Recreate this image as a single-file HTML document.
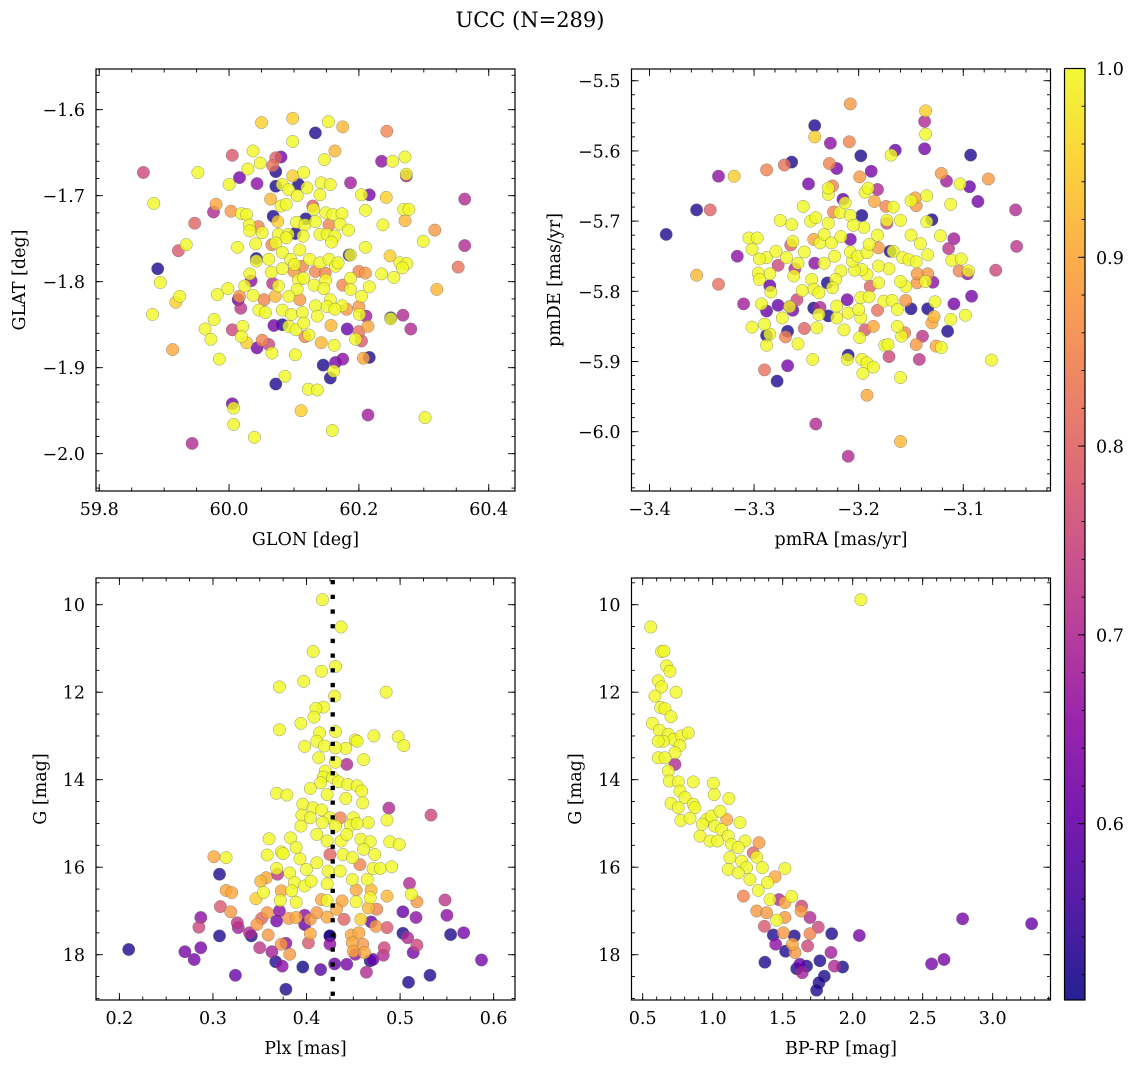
<!DOCTYPE html>
<html><head><meta charset="utf-8"><title>UCC (N=289)</title>
<style>
html,body{margin:0;padding:0;background:#fff;}
svg{display:block;font-family:"DejaVu Serif","Liberation Serif",serif;}
</style></head>
<body>
<svg id="fig" width="1136" height="1068" viewBox="0 0 1136 1068" xmlns="http://www.w3.org/2000/svg">
<defs>
<linearGradient id="plasmaGrad" x1="0" y1="1" x2="0" y2="0">
<stop offset="0" stop-color="#0d0887"/><stop offset="0.1" stop-color="#41049d"/><stop offset="0.2" stop-color="#6a00a8"/><stop offset="0.3" stop-color="#8f0da4"/><stop offset="0.4" stop-color="#b12a90"/><stop offset="0.5" stop-color="#cc4778"/><stop offset="0.6" stop-color="#e16462"/><stop offset="0.7" stop-color="#f2844b"/><stop offset="0.8" stop-color="#fca636"/><stop offset="0.9" stop-color="#fcce25"/><stop offset="1" stop-color="#f0f921"/>
</linearGradient>
</defs>
<text x="530" y="27" text-anchor="middle" font-size="21">UCC (N=289)</text>
</svg>
<script>
// ---------- data ----------
const skyPoints = [
[59.868,-1.673,0.75],[59.884,-1.709,1],[59.952,-1.673,1],[60.005,-1.653,0.78],[60.050,-1.615,0.95],[60.098,-1.610,0.95],[60.153,-1.614,1],[60.175,-1.620,0.92],[60.133,-1.627,0.52],[60.243,-1.625,0.85],
[60.098,-1.637,1],[60.163,-1.648,0.92],[60.147,-1.658,1],[60.235,-1.660,0.65],[60.252,-1.660,1],[60.271,-1.655,1],[60.273,-1.677,0.68],[60.273,-1.675,1],[60.037,-1.648,1],[60.048,-1.662,1],
[60.029,-1.669,1],[60.016,-1.679,0.62],[60.043,-1.686,0.65],[60.000,-1.687,1],[60.072,-1.656,0.8],[60.080,-1.655,0.62],[60.067,-1.665,0.82],[60.072,-1.672,0.52],[60.072,-1.689,0.52],[60.098,-1.677,0.95],
[60.115,-1.673,1],[60.082,-1.687,1],[60.092,-1.693,1],[60.105,-1.700,1],[60.107,-1.687,0.52],[60.120,-1.691,1],[60.142,-1.685,1],[60.156,-1.687,1],[60.140,-1.699,1],[60.187,-1.685,0.68],
[60.204,-1.699,1],[60.216,-1.699,0.62],[60.242,-1.702,0.95],[60.363,-1.704,0.7],[60.064,-1.704,0.92],[59.980,-1.710,0.9],[59.976,-1.719,0.7],[60.003,-1.718,0.88],[60.019,-1.721,1],[60.027,-1.722,1],
[60.080,-1.712,1],[60.088,-1.710,1],[60.129,-1.712,0.8],[60.130,-1.716,1],[60.210,-1.717,1],[60.269,-1.716,1],[60.277,-1.716,1],[60.271,-1.729,0.92],[60.317,-1.740,0.88],[59.947,-1.732,0.8],
[60.068,-1.724,0.52],[60.075,-1.730,0.95],[60.118,-1.727,0.52],[60.104,-1.731,1],[60.117,-1.734,1],[60.133,-1.730,1],[60.149,-1.720,1],[60.160,-1.722,1],[60.174,-1.721,1],[60.154,-1.734,0.85],
[60.171,-1.733,1],[60.184,-1.740,1],[60.237,-1.734,1],[60.031,-1.734,1],[60.045,-1.736,0.85],[60.032,-1.741,1],[60.051,-1.743,1],[60.076,-1.745,1],[60.091,-1.745,1],[60.088,-1.749,1],
[60.114,-1.747,1],[60.140,-1.745,1],[60.151,-1.745,1],[60.163,-1.747,1],[60.158,-1.754,1],[60.102,-1.744,0.52],[59.934,-1.757,1],[59.922,-1.764,0.78],[60.013,-1.760,1],[60.041,-1.756,1],
[60.066,-1.757,0.85],[60.072,-1.755,1],[60.109,-1.763,1],[60.082,-1.766,1],[60.042,-1.773,0.52],[60.042,-1.776,1],[60.061,-1.774,1],[60.095,-1.774,1],[60.101,-1.780,1],[60.113,-1.782,0.85],
[60.124,-1.774,1],[60.140,-1.778,1],[60.154,-1.774,1],[60.164,-1.782,1],[60.168,-1.778,1],[60.185,-1.769,0.52],[60.187,-1.769,1],[60.210,-1.760,1],[60.248,-1.770,0.95],[60.263,-1.778,1],
[60.274,-1.779,1],[60.267,-1.784,1],[60.299,-1.753,1],[60.363,-1.758,0.7],[59.890,-1.785,0.52],[59.894,-1.801,1],[60.032,-1.791,1],[60.065,-1.789,1],[60.082,-1.785,1],[60.100,-1.788,0.88],
[60.133,-1.788,0.85],[60.148,-1.790,0.85],[60.107,-1.798,1],[60.115,-1.796,1],[60.131,-1.804,1],[60.149,-1.798,1],[60.200,-1.788,0.85],[60.210,-1.790,0.88],[60.187,-1.796,1],[60.235,-1.791,1],
[60.254,-1.795,1],[60.353,-1.783,0.82],[60.320,-1.809,0.92],[60.034,-1.799,0.65],[60.067,-1.802,0.72],[60.076,-1.805,1],[60.105,-1.809,1],[60.146,-1.808,1],[60.175,-1.804,0.85],[60.187,-1.809,1],
[60.216,-1.806,1],[59.924,-1.817,1],[59.918,-1.824,0.95],[59.982,-1.815,1],[59.998,-1.808,1],[60.024,-1.805,1],[60.037,-1.816,1],[60.014,-1.821,0.6],[60.016,-1.817,0.88],[60.018,-1.831,0.72],
[60.054,-1.821,0.85],[60.071,-1.817,0.92],[60.092,-1.817,1],[60.109,-1.821,0.88],[60.133,-1.828,1],[60.156,-1.821,1],[60.151,-1.829,1],[60.174,-1.828,1],[60.181,-1.832,0.88],[60.200,-1.829,0.88],
[60.204,-1.817,1],[60.046,-1.833,1],[60.056,-1.836,1],[60.082,-1.833,1],[60.096,-1.838,1],[60.113,-1.836,1],[60.136,-1.840,1],[60.163,-1.832,1],[60.201,-1.838,1],[60.211,-1.840,0.68],
[59.882,-1.838,1],[59.977,-1.844,1],[59.963,-1.855,1],[59.972,-1.867,1],[60.005,-1.856,0.75],[60.021,-1.852,1],[60.019,-1.864,1],[60.027,-1.871,0.95],[60.043,-1.877,0.62],[60.051,-1.868,0.85],
[60.061,-1.873,0.75],[60.066,-1.883,1],[60.069,-1.851,0.62],[60.082,-1.850,0.52],[60.092,-1.852,1],[60.103,-1.856,1],[60.115,-1.848,1],[60.117,-1.864,0.85],[60.123,-1.862,1],[60.142,-1.871,0.92],
[60.157,-1.851,0.92],[60.162,-1.874,1],[60.182,-1.855,0.6],[60.200,-1.858,0.82],[60.195,-1.867,1],[60.204,-1.869,0.78],[60.214,-1.852,0.9],[60.249,-1.842,0.52],[60.249,-1.843,1],[60.268,-1.839,0.7],
[60.280,-1.855,0.7],[59.913,-1.879,0.9],[59.985,-1.890,1],[60.102,-1.885,1],[60.145,-1.897,0.52],[60.164,-1.894,0.62],[60.175,-1.890,0.65],[60.156,-1.912,0.52],[60.161,-1.904,1],[60.207,-1.889,0.9],
[60.216,-1.888,0.52],[60.086,-1.910,1],[60.072,-1.919,0.52],[60.122,-1.925,1],[60.136,-1.926,1],[60.005,-1.942,0.62],[60.007,-1.947,1],[60.111,-1.950,0.95],[60.214,-1.955,0.68],[60.302,-1.958,1],
[60.007,-1.966,1],[60.159,-1.973,1],[60.039,-1.981,1],[59.943,-1.988,0.7]
];
const pmPoints = [
[-3.384,-5.719,0.52],[-3.355,-5.684,0.52],[-3.342,-5.684,0.8],[-3.334,-5.636,0.65],[-3.319,-5.636,0.95],[-3.355,-5.777,0.92],[-3.334,-5.790,0.82],[-3.316,-5.750,0.65],[-3.310,-5.818,0.68],[-3.288,-5.627,0.85],
[-3.271,-5.620,0.82],[-3.264,-5.616,0.52],[-3.248,-5.647,0.62],[-3.242,-5.564,0.52],[-3.242,-5.580,0.95],[-3.227,-5.589,0.65],[-3.208,-5.533,0.88],[-3.209,-5.587,0.85],[-3.228,-5.618,0.85],[-3.221,-5.625,0.62],
[-3.198,-5.607,0.52],[-3.199,-5.637,0.88],[-3.188,-5.629,0.62],[-3.165,-5.599,0.6],[-3.169,-5.606,1],[-3.136,-5.543,0.95],[-3.137,-5.558,0.7],[-3.136,-5.576,1],[-3.137,-5.597,0.62],[-3.093,-5.606,0.52],
[-3.121,-5.632,0.88],[-3.116,-5.643,0.68],[-3.103,-5.647,1],[-3.094,-5.651,0.6],[-3.076,-5.640,0.88],[-3.086,-5.672,0.62],[-3.050,-5.684,0.7],[-3.049,-5.736,0.72],[-3.069,-5.770,0.75],[-3.092,-5.807,0.62],
[-3.109,-5.818,0.62],[-3.115,-5.857,0.52],[-3.073,-5.898,1],[-3.098,-5.834,1],[-3.112,-5.840,1],[-3.127,-5.815,1],[-3.134,-5.825,0.52],[-3.128,-5.836,0.92],[-3.130,-5.845,0.9],[-3.139,-5.864,0.72],
[-3.142,-5.897,0.72],[-3.145,-5.876,0.88],[-3.126,-5.878,0.9],[-3.121,-5.880,1],[-3.150,-5.825,0.52],[-3.155,-5.813,0.88],[-3.156,-5.859,0.85],[-3.159,-5.864,1],[-3.163,-5.850,1],[-3.171,-5.893,0.75],
[-3.175,-5.877,1],[-3.172,-5.876,1],[-3.160,-5.923,1],[-3.192,-5.948,0.9],[-3.160,-6.014,0.92],[-3.241,-5.989,0.7],[-3.210,-6.035,0.7],[-3.278,-5.928,0.52],[-3.290,-5.912,0.82],[-3.268,-5.906,0.62],
[-3.244,-5.897,1],[-3.210,-5.891,0.52],[-3.211,-5.897,1],[-3.197,-5.897,1],[-3.192,-5.902,1],[-3.186,-5.908,1],[-3.196,-5.917,1],[-3.199,-5.866,1],[-3.214,-5.855,1],[-3.194,-5.855,0.78],
[-3.186,-5.850,0.9],[-3.240,-5.852,1],[-3.252,-5.853,0.8],[-3.270,-5.865,0.85],[-3.268,-5.857,0.52],[-3.288,-5.863,0.52],[-3.285,-5.861,1],[-3.288,-5.877,1],[-3.302,-5.851,1],[-3.290,-5.847,1],
[-3.258,-5.875,1],[-3.273,-5.838,1],[-3.277,-5.820,0.6],[-3.266,-5.822,0.62],[-3.263,-5.827,0.62],[-3.266,-5.822,1],[-3.259,-5.812,0.75],[-3.288,-5.828,0.6],[-3.293,-5.818,1],[-3.243,-5.824,0.52],
[-3.237,-5.823,0.7],[-3.238,-5.833,1],[-3.229,-5.835,0.52],[-3.221,-5.838,1],[-3.221,-5.821,1],[-3.211,-5.812,0.62],[-3.210,-5.831,1],[-3.198,-5.838,1],[-3.198,-5.809,1],[-3.200,-5.826,1],
[-3.190,-5.808,1],[-3.182,-5.827,0.82],[-3.176,-5.814,1],[-3.168,-5.813,1],[-3.163,-5.826,1],[-3.155,-5.793,1],[-3.160,-5.786,1],[-3.144,-5.788,0.88],[-3.136,-5.786,1],[-3.129,-5.787,0.65],
[-3.134,-5.775,0.88],[-3.144,-5.775,0.88],[-3.181,-5.788,1],[-3.189,-5.793,0.8],[-3.171,-5.768,1],[-3.181,-5.764,1],[-3.192,-5.776,1],[-3.197,-5.769,1],[-3.204,-5.770,1],[-3.206,-5.757,1],
[-3.217,-5.771,1],[-3.222,-5.783,1],[-3.225,-5.795,1],[-3.230,-5.788,0.52],[-3.245,-5.783,1],[-3.243,-5.797,1],[-3.238,-5.802,1],[-3.254,-5.799,1],[-3.262,-5.778,1],[-3.261,-5.768,0.7],
[-3.258,-5.760,1],[-3.277,-5.763,0.75],[-3.269,-5.752,1],[-3.285,-5.775,1],[-3.296,-5.774,1],[-3.295,-5.783,1],[-3.285,-5.792,0.6],[-3.284,-5.801,1],[-3.288,-5.752,1],[-3.295,-5.754,1],
[-3.302,-5.740,1],[-3.305,-5.724,1],[-3.297,-5.724,1],[-3.279,-5.743,1],[-3.265,-5.734,0.8],[-3.263,-5.729,1],[-3.252,-5.744,1],[-3.242,-5.760,0.65],[-3.243,-5.726,0.9],[-3.237,-5.731,1],
[-3.233,-5.719,1],[-3.226,-5.731,1],[-3.217,-5.722,1],[-3.223,-5.750,1],[-3.233,-5.760,1],[-3.208,-5.744,1],[-3.208,-5.726,0.62],[-3.201,-5.750,1],[-3.192,-5.745,1],[-3.190,-5.733,1],
[-3.182,-5.720,1],[-3.181,-5.738,0.88],[-3.170,-5.743,0.52],[-3.167,-5.743,1],[-3.158,-5.752,1],[-3.152,-5.755,1],[-3.145,-5.758,1],[-3.134,-5.748,1],[-3.141,-5.732,1],[-3.150,-5.720,1],
[-3.122,-5.721,1],[-3.114,-5.739,0.72],[-3.109,-5.725,0.68],[-3.111,-5.756,1],[-3.102,-5.754,1],[-3.104,-5.771,0.85],[-3.096,-5.775,0.65],[-3.095,-5.771,1],[-3.275,-5.699,1],[-3.264,-5.705,1],
[-3.253,-5.679,1],[-3.246,-5.700,1],[-3.241,-5.695,1],[-3.229,-5.703,1],[-3.224,-5.687,0.85],[-3.218,-5.688,1],[-3.213,-5.674,1],[-3.208,-5.692,1],[-3.197,-5.692,0.52],[-3.195,-5.709,1],
[-3.205,-5.706,1],[-3.229,-5.662,1],[-3.229,-5.653,1],[-3.225,-5.650,0.85],[-3.215,-5.669,0.6],[-3.194,-5.659,1],[-3.191,-5.653,1],[-3.182,-5.655,0.7],[-3.185,-5.672,0.9],[-3.174,-5.679,0.85],
[-3.167,-5.680,1],[-3.173,-5.699,1],[-3.173,-5.703,0.75],[-3.160,-5.699,1],[-3.150,-5.671,1],[-3.146,-5.667,0.9],[-3.145,-5.678,0.88],[-3.135,-5.664,1],[-3.130,-5.698,0.52],[-3.135,-5.701,1],
[-3.112,-5.676,1]
];
const plxPoints = [
[0.417,9.886,1],[0.437,10.51,1],[0.407,11.07,1],[0.431,11.41,1],[0.416,11.52,1],[0.397,11.75,1],[0.371,11.88,1],[0.485,12.00,1],[0.430,12.09,1],[0.418,12.34,1],
[0.410,12.37,1],[0.408,12.57,1],[0.394,12.71,1],[0.371,12.86,1],[0.414,12.93,1],[0.431,12.90,1],[0.452,13.09,1],[0.454,13.12,1],[0.472,13.00,1],[0.498,13.02,1],
[0.504,13.22,1],[0.398,13.24,1],[0.411,13.12,1],[0.419,13.23,1],[0.442,13.28,1],[0.431,13.27,1],[0.413,13.50,1],[0.431,13.60,1],[0.461,13.54,1],[0.443,13.65,0.7],
[0.420,13.80,1],[0.418,13.94,1],[0.428,13.95,1],[0.434,14.05,1],[0.415,14.07,1],[0.404,14.20,1],[0.444,14.11,1],[0.454,14.14,1],[0.459,14.26,1],[0.368,14.31,1],
[0.379,14.35,1],[0.422,14.34,1],[0.442,14.43,1],[0.396,14.56,1],[0.407,14.64,1],[0.416,14.69,1],[0.460,14.53,1],[0.488,14.65,0.7],[0.533,14.81,0.75],[0.395,14.81,1],
[0.404,14.87,1],[0.425,14.87,1],[0.436,14.87,0.85],[0.450,14.87,1],[0.466,14.98,1],[0.486,14.92,1],[0.394,15.06,1],[0.417,14.98,1],[0.431,15.06,1],[0.447,15.04,1],
[0.454,15.00,1],[0.411,15.25,1],[0.422,15.40,1],[0.437,15.40,1],[0.443,15.25,1],[0.458,15.36,1],[0.468,15.42,1],[0.489,15.42,1],[0.499,15.48,1],[0.360,15.35,1],
[0.383,15.33,1],[0.389,15.55,1],[0.373,15.65,1],[0.375,15.69,1],[0.358,15.72,1],[0.314,15.78,1],[0.301,15.76,0.9],[0.393,15.81,1],[0.411,15.90,1],[0.425,15.71,0.8],
[0.439,15.71,1],[0.449,15.78,1],[0.461,15.59,1],[0.473,15.71,1],[0.457,15.94,0.85],[0.471,16.03,1],[0.479,16.03,1],[0.491,15.99,1],[0.368,16.03,1],[0.400,16.05,1],
[0.423,16.09,1],[0.436,16.09,1],[0.307,16.16,0.52],[0.351,16.32,0.92],[0.357,16.24,0.9],[0.369,16.16,0.72],[0.382,16.13,1],[0.387,16.35,1],[0.398,16.43,1],[0.405,16.32,1],
[0.422,16.38,1],[0.449,16.28,1],[0.465,16.28,1],[0.510,16.37,0.7],[0.314,16.53,0.9],[0.320,16.58,0.9],[0.354,16.58,1],[0.373,16.54,0.9],[0.384,16.54,1],[0.346,16.72,0.95],
[0.372,16.76,1],[0.389,16.80,1],[0.416,16.74,0.9],[0.422,16.76,1],[0.438,16.77,0.9],[0.453,16.52,0.9],[0.453,16.79,1],[0.469,16.52,0.92],[0.468,16.70,1],[0.486,16.66,0.92],
[0.512,16.62,1],[0.518,16.79,0.88],[0.548,16.75,0.72],[0.308,16.90,0.78],[0.319,17.02,0.88],[0.358,17.04,0.88],[0.371,17.00,0.65],[0.381,17.17,0.88],[0.389,17.15,0.9],[0.398,17.10,0.65],
[0.404,17.19,0.88],[0.411,17.04,0.88],[0.422,17.14,0.9],[0.432,16.96,0.9],[0.440,17.19,0.8],[0.458,17.19,0.95],[0.466,16.93,0.92],[0.475,16.96,0.85],[0.503,17.02,0.6],[0.517,17.15,0.65],
[0.550,17.10,0.65],[0.287,17.15,0.65],[0.285,17.37,0.75],[0.326,17.27,0.72],[0.327,17.38,0.68],[0.341,17.57,0.52],[0.339,17.50,0.7],[0.347,17.31,0.88],[0.352,17.17,0.8],[0.368,17.23,0.62],
[0.398,17.31,0.6],[0.404,17.52,0.9],[0.425,17.57,0.52],[0.448,17.55,0.9],[0.456,17.50,0.9],[0.469,17.25,0.6],[0.474,17.35,0.88],[0.486,17.38,0.78],[0.503,17.51,0.52],[0.508,17.61,0.7],
[0.554,17.54,0.52],[0.568,17.50,0.62],[0.307,17.57,0.52],[0.210,17.88,0.52],[0.270,17.93,0.62],[0.280,18.11,0.62],[0.287,17.84,0.62],[0.324,18.47,0.6],[0.350,17.84,0.72],[0.359,17.55,0.88],
[0.363,17.93,0.68],[0.367,18.16,0.52],[0.373,17.76,0.88],[0.374,18.26,0.65],[0.378,17.74,0.65],[0.382,17.99,0.88],[0.378,18.79,0.52],[0.396,18.28,0.5],[0.402,17.73,0.78],[0.415,18.34,0.58],
[0.425,17.57,0.52],[0.425,17.76,0.65],[0.430,18.21,0.6],[0.443,18.22,0.62],[0.449,17.73,0.9],[0.450,17.92,0.9],[0.452,17.99,0.65],[0.460,17.76,0.88],[0.462,17.95,0.9],[0.464,18.40,0.7],
[0.468,18.14,0.52],[0.471,18.11,0.6],[0.482,18.01,0.7],[0.483,17.84,0.75],[0.514,17.95,0.62],[0.509,18.63,0.52],[0.518,17.78,0.75],[0.532,18.47,0.52],[0.587,18.12,0.62]
];
const cmdPoints = [
[2.059,9.886,1],[0.557,10.51,1],[0.635,11.07,1],[0.652,11.06,1],[0.671,11.40,1],[0.695,11.52,1],[0.611,11.74,1],[0.635,11.88,1],[0.738,12.00,1],[0.588,12.09,1],
[0.628,12.35,1],[0.659,12.38,1],[0.702,12.56,1],[0.569,12.71,1],[0.619,12.87,1],[0.683,12.96,1],[0.719,13.08,1],[0.778,13.00,1],[0.826,12.93,1],[0.647,13.12,1],
[0.611,13.12,1],[0.766,13.22,1],[0.731,13.38,1],[0.611,13.50,1],[0.659,13.50,1],[0.731,13.65,0.7],[0.683,13.80,1],[0.690,14.03,1],[0.754,14.05,1],[0.766,14.26,1],
[0.861,14.05,1],[1.004,14.08,1],[1.011,14.34,1],[1.116,14.43,1],[0.702,14.54,1],[0.802,14.41,1],[0.861,14.56,1],[0.754,14.64,1],[0.873,14.64,1],[0.773,14.93,1],
[0.838,14.88,1],[0.957,14.91,1],[0.992,14.83,1],[1.052,14.72,1],[1.100,14.91,0.9],[0.926,15.02,1],[1.016,15.06,1],[1.064,15.14,1],[1.195,14.98,1],[0.909,15.29,1],
[0.981,15.40,1],[1.035,15.40,1],[1.111,15.29,1],[1.135,15.48,1],[1.231,15.40,1],[1.183,15.55,1],[1.331,15.44,0.88],[1.290,15.67,0.8],[1.123,15.78,1],[1.207,15.86,1],
[1.314,15.77,1],[1.242,16.01,1],[1.111,16.05,1],[1.183,16.13,1],[1.354,16.01,1],[1.516,16.03,1],[1.445,16.22,0.9],[1.266,16.28,1],[1.392,16.35,1],[1.326,16.53,1],
[1.219,16.66,0.85],[1.409,16.74,1],[1.473,16.74,0.7],[1.564,16.67,1],[1.516,16.81,0.9],[1.314,17.00,0.88],[1.385,17.04,0.88],[1.457,17.21,1],[1.516,17.15,0.88],[1.631,17.00,0.88],
[1.635,16.89,0.75],[1.695,17.15,0.7],[1.369,17.35,0.78],[1.433,17.55,0.52],[1.504,17.50,0.88],[1.450,17.76,0.65],[1.521,17.92,0.52],[1.583,17.57,0.52],[1.569,17.76,0.9],[1.588,17.95,0.88],
[1.695,17.52,0.85],[1.678,17.80,0.75],[1.754,17.37,0.75],[1.850,17.52,0.52],[1.845,17.95,0.68],[1.766,18.14,0.52],[1.623,18.22,0.6],[1.600,18.32,0.52],[1.640,18.41,0.68],[1.671,18.26,0.52],
[1.869,18.26,0.7],[1.928,18.28,0.52],[1.797,18.49,0.52],[1.759,18.64,0.52],[1.742,18.81,0.52],[1.373,18.17,0.52],[2.047,17.56,0.62],[2.785,17.18,0.62],[3.278,17.29,0.6],[2.564,18.21,0.62],
[2.652,18.11,0.62]
];
const plxLine = 0.428;
const xTicks1 = [59.8, 60.0, 60.2, 60.4];
const yTicks1 = [-1.6, -1.7, -1.8, -1.9, -2.0];
const xTicks2 = [-3.4, -3.3, -3.2, -3.1];
const yTicks2 = [-5.5, -5.6, -5.7, -5.8, -5.9, -6.0];
const xTicks3 = [0.2, 0.3, 0.4, 0.5, 0.6];
const xTicks4 = [0.5, 1.0, 1.5, 2.0, 2.5, 3.0];
const gTicks = [10, 12, 14, 16, 18];
const cbarTicks = [0.6, 0.7, 0.8, 0.9, 1.0];

// ---------- helpers ----------
const NS = "http://www.w3.org/2000/svg";
const svg = document.getElementById("fig");
function mk(tag, attrs, parent) {
  const e = document.createElementNS(NS, tag);
  for (const k in attrs) e.setAttribute(k, attrs[k]);
  (parent || svg).appendChild(e);
  return e;
}
const VMIN = 0.5066, VMAX = 1.0;
const plasma = ["#0d0887","#41049d","#6a00a8","#8f0da4","#b12a90","#cc4778","#e16462","#f2844b","#fca636","#fcce25","#f0f921"];
function hex(c){return [parseInt(c.slice(1,3),16),parseInt(c.slice(3,5),16),parseInt(c.slice(5,7),16)];}
function cmap(v){
  let t = (v - VMIN) / (VMAX - VMIN); t = Math.max(0, Math.min(1, t));
  const f = t * 10, i = Math.min(9, Math.floor(f)), r = f - i;
  const a = hex(plasma[i]), b = hex(plasma[i+1]);
  return "rgb(" + a.map((x,k)=>Math.round(x+(b[k]-x)*r)).join(",") + ")";
}
function fmt(v, d){ const s = v.toFixed(d); return s.replace("-", "\u2212"); }
const FS = 17.5;

function makeAxis(cfg) {
  const g = mk("g", {});
  
  
  const sx = v => cfg.L + (v - cfg.x0) / (cfg.x1 - cfg.x0) * (cfg.R - cfg.L);
  const sy = v => cfg.B - (v - cfg.y0) / (cfg.y1 - cfg.y0) * (cfg.B - cfg.T);
  const clip = mk("clipPath", {id: cfg.name + "-clip"}, g);
  mk("rect", {x: cfg.L, y: cfg.T, width: cfg.R - cfg.L, height: cfg.B - cfg.T}, clip);
  const pts = mk("g", {"clip-path": "url(#" + cfg.name + "-clip)"}, g);
  
  
  const sorted = cfg.data.slice().sort((a, b) => a[2] - b[2]);
  for (const d of sorted) {
    const c = mk("circle", {cx: sx(d[0]).toFixed(1), cy: sy(d[1]).toFixed(1), r: 6.2, fill: cmap(d[2]), "fill-opacity": 0.8, stroke: "#6a6a6a", "stroke-opacity": 0.7, "stroke-width": 0.5}, pts);
    
    
  }
  if (cfg.vline !== undefined) {
    const l = mk("line", {x1: sx(cfg.vline), x2: sx(cfg.vline), y1: cfg.T + 2, y2: cfg.B, stroke: "#000", "stroke-width": 4.3, "stroke-dasharray": "4.3 10.4"}, g);
    
    
  }
  const tk = mk("g", {stroke: "#000", "stroke-width": 0.9}, g);
  function ticksAlong(axis, step, len) {
    const lo = axis === "x" ? Math.min(cfg.x0, cfg.x1) : Math.min(cfg.y0, cfg.y1);
    const hi = axis === "x" ? Math.max(cfg.x0, cfg.x1) : Math.max(cfg.y0, cfg.y1);
    const n0 = Math.ceil(lo / step - 1e-6), n1 = Math.floor(hi / step + 1e-6);
    for (let n = n0; n <= n1; n++) {
      const v = n * step;
      if (axis === "x") {
        const p = sx(v);
        mk("line", {x1: p, x2: p, y1: cfg.B, y2: cfg.B - len}, tk);
        mk("line", {x1: p, x2: p, y1: cfg.T, y2: cfg.T + len}, tk);
      } else {
        const p = sy(v);
        mk("line", {y1: p, y2: p, x1: cfg.L, x2: cfg.L + len}, tk);
        mk("line", {y1: p, y2: p, x1: cfg.R, x2: cfg.R - len}, tk);
      }
    }
  }
  ticksAlong("x", cfg.xminor, 3.5);
  ticksAlong("y", cfg.yminor, 3.5);
  for (const v of cfg.xt) {
    const p = sx(v);
    mk("line", {x1: p, x2: p, y1: cfg.B, y2: cfg.B - 7}, tk);
    mk("line", {x1: p, x2: p, y1: cfg.T, y2: cfg.T + 7}, tk);
    const t = mk("text", {x: p, y: cfg.B + 24, "text-anchor": "middle", "font-size": FS}, g);
    t.textContent = fmt(v, cfg.xd);
    
    
  }
  for (const v of cfg.yt) {
    const p = sy(v);
    mk("line", {y1: p, y2: p, x1: cfg.L, x2: cfg.L + 7}, tk);
    mk("line", {y1: p, y2: p, x1: cfg.R, x2: cfg.R - 7}, tk);
    const t = mk("text", {x: cfg.L - 11, y: p + 6.5, "text-anchor": "end", "font-size": FS}, g);
    t.textContent = fmt(v, cfg.yd);
    
    
  }
  const fr = mk("rect", {x: cfg.L, y: cfg.T, width: cfg.R - cfg.L, height: cfg.B - cfg.T, fill: "none", stroke: "#000", "stroke-width": 1.2}, g);
  
  
  const xl = mk("text", {x: (cfg.L + cfg.R) / 2, y: cfg.B + 54, "text-anchor": "middle", "font-size": FS}, g);
  xl.textContent = cfg.xlabel;
  
  
  const cy = (cfg.T + cfg.B) / 2;
  const yl = mk("text", {x: cfg.ylx, y: cy, "text-anchor": "middle", "font-size": FS, transform: "rotate(-90 " + cfg.ylx + " " + cy + ")"}, g);
  yl.textContent = cfg.ylabel;
  
  
}

makeAxis({name: "sky-panel", data: skyPoints, L: 96, R: 515, T: 69, B: 491, x0: 59.795, x1: 60.4405, y0: -2.0434, y1: -1.5527,
  xt: xTicks1, yt: yTicks1, xd: 1, yd: 1, xminor: 0.05, yminor: 0.02, xlabel: "GLON [deg]", ylabel: "GLAT [deg]", ylx: 25});
makeAxis({name: "pm-panel", data: pmPoints, L: 631.5, R: 1050.5, T: 69, B: 491, x0: -3.4172, x1: -3.0166, y0: -6.0845, y1: -5.4833,
  xt: xTicks2, yt: yTicks2, xd: 1, yd: 1, xminor: 0.02, yminor: 0.02, xlabel: "pmRA [mas/yr]", ylabel: "pmDE [mas/yr]", ylx: 560});
makeAxis({name: "plx-panel", data: plxPoints, vline: plxLine, L: 96, R: 515, T: 578, B: 1000, x0: 0.175, x1: 0.6228, y0: 19.035, y1: 9.39,
  xt: xTicks3, yt: gTicks, xd: 1, yd: 0, xminor: 0.025, yminor: 0.5, xlabel: "Plx [mas]", ylabel: "G [mag]", ylx: 46});
makeAxis({name: "cmd-panel", data: cmdPoints, L: 631.5, R: 1050.5, T: 578, B: 1000, x0: 0.42, x1: 3.413, y0: 19.035, y1: 9.39,
  xt: xTicks4, yt: gTicks, xd: 1, yd: 0, xminor: 0.1, yminor: 0.5, xlabel: "BP-RP [mag]", ylabel: "G [mag]", ylx: 581});

// ---------- colorbar ----------
(function(){
  const L = 1064.5, R = 1085, T = 68.5, B = 1000;
  const sy = v => B - (v - VMIN) / (VMAX - VMIN) * (B - T);
  const g = mk("g", {});
  
  
  mk("rect", {x: L, y: T, width: R - L, height: B - T, fill: "url(#plasmaGrad)", "fill-opacity": 0.9}, g);
  const tk = mk("g", {stroke: "#000", "stroke-width": 0.9}, g);
  for (let n = Math.ceil(VMIN / 0.02); n <= 50; n++) {
    const p = sy(n * 0.02);
    mk("line", {x1: R, x2: R - 3.5, y1: p, y2: p}, tk);
  }
  for (const v of cbarTicks) {
    const p = sy(v);
    mk("line", {x1: R, x2: R - 7, y1: p, y2: p}, tk);
    const t = mk("text", {x: 1096, y: p + 6.5, "font-size": FS}, g);
    t.textContent = v.toFixed(1);
    
    
  }
  mk("rect", {x: L, y: T, width: R - L, height: B - T, fill: "none", stroke: "#000", "stroke-width": 1.2}, g);
})();
</script>
</body></html>
